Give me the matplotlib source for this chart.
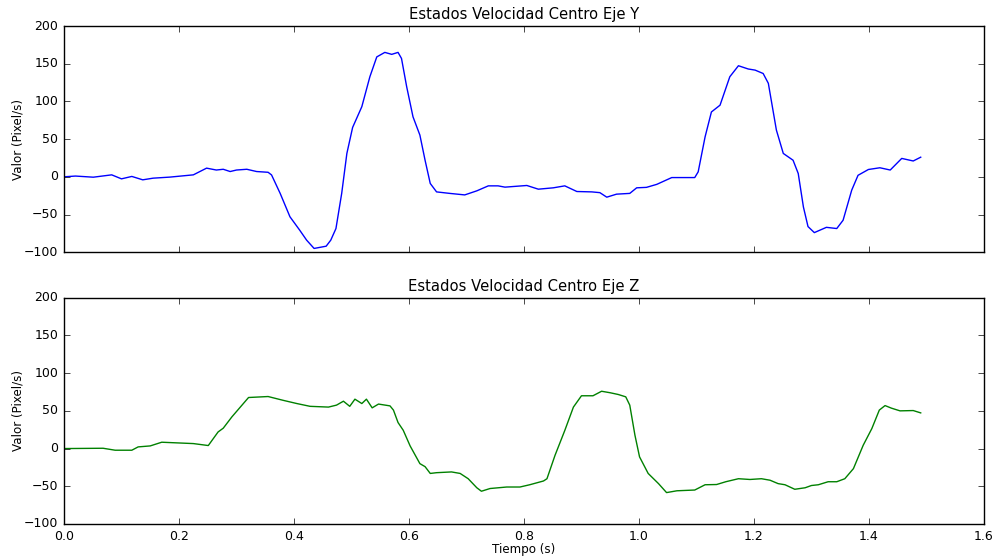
import matplotlib
matplotlib.use("Agg")
import matplotlib.pyplot as plt
import numpy as np

plt.style.use("classic")

# Velocidad del centro, eje Y (tiempo en s, valor en pixel/s)
t_y = [0.000, 0.020, 0.051, 0.083, 0.100, 0.118, 0.137, 0.155, 0.184, 0.225,
       0.248, 0.265, 0.277, 0.289, 0.300, 0.318, 0.335, 0.355, 0.361, 0.376,
       0.393, 0.410, 0.422, 0.435, 0.456, 0.464, 0.473, 0.483, 0.492, 0.502,
       0.518, 0.532, 0.544, 0.558, 0.570, 0.581, 0.587, 0.596, 0.607, 0.619,
       0.628, 0.637, 0.648, 0.671, 0.697, 0.718, 0.738, 0.755, 0.767, 0.805,
       0.825, 0.851, 0.871, 0.892, 0.918, 0.932, 0.944, 0.961, 0.984, 0.996,
       1.013, 1.031, 1.057, 1.083, 1.097, 1.103, 1.115, 1.126, 1.141, 1.158,
       1.173, 1.190, 1.202, 1.216, 1.225, 1.239, 1.251, 1.268, 1.277, 1.286,
       1.294, 1.305, 1.326, 1.344, 1.355, 1.370, 1.381, 1.399, 1.419, 1.437,
       1.457, 1.477, 1.490]
v_y = [0.0, 1.0, -0.5, 2.6, -2.7, 0.5, -4.0, -1.8, -0.4, 2.6,
       11.5, 9.0, 10.0, 7.0, 9.0, 10.0, 7.0, 6.0, 2.5, -22.0,
       -53.0, -70.8, -84.0, -95.0, -92.0, -84.0, -68.6, -22.0, 31.0, 65.5,
       93.0, 132.7, 159.0, 165.0, 162.4, 165.0, 157.0, 119.5, 79.6, 55.3,
       22.0, -8.8, -20.0, -22.0, -24.0, -18.6, -12.0, -12.0, -13.7, -11.5,
       -16.4, -14.6, -12.0, -19.5, -20.0, -21.0, -27.0, -23.0, -22.0, -14.6,
       -14.0, -10.0, -1.0, -1.0, -1.0, 6.6, 53.0, 86.0, 95.0, 132.7,
       147.3, 143.0, 141.5, 137.0, 124.0, 62.0, 31.0, 22.0, 4.4, -40.0,
       -66.0, -74.0, -67.0, -68.6, -57.6, -17.7, 2.0, 9.7, 12.0, 9.0,
       24.4, 21.0, 26.0]

# Velocidad del centro, eje Z
t_z = [0.000, 0.068, 0.089, 0.118, 0.129, 0.150, 0.170, 0.225, 0.251, 0.268,
       0.277, 0.292, 0.321, 0.355, 0.381, 0.405, 0.428, 0.460, 0.474, 0.486,
       0.497, 0.506, 0.518, 0.526, 0.536, 0.547, 0.567, 0.573, 0.581, 0.590,
       0.602, 0.619, 0.628, 0.637, 0.648, 0.674, 0.689, 0.703, 0.718, 0.726,
       0.741, 0.770, 0.793, 0.810, 0.834, 0.840, 0.854, 0.871, 0.886, 0.900,
       0.920, 0.935, 0.950, 0.964, 0.977, 0.984, 0.993, 1.001, 1.016, 1.034,
       1.048, 1.066, 1.097, 1.115, 1.135, 1.151, 1.173, 1.193, 1.213, 1.228,
       1.242, 1.254, 1.271, 1.289, 1.300, 1.312, 1.329, 1.344, 1.358, 1.373,
       1.390, 1.405, 1.418, 1.428, 1.439, 1.454, 1.477, 1.490]
v_z = [0.0, 0.4, -2.2, -2.2, 2.2, 3.5, 8.4, 6.6, 4.0, 22.0,
       27.0, 42.0, 67.7, 69.0, 64.0, 59.7, 56.0, 55.0, 57.6, 62.8,
       56.0, 65.5, 59.7, 65.5, 54.0, 59.0, 56.6, 51.0, 34.5, 24.3,
       3.5, -20.0, -24.0, -33.0, -32.0, -31.0, -33.0, -40.0, -52.0, -56.6,
       -53.0, -51.0, -51.0, -48.0, -43.0, -40.0, -9.0, 24.0, 55.0, 70.0,
       70.0, 76.0, 74.0, 71.7, 68.6, 57.6, 17.7, -11.0, -33.0, -46.5,
       -58.4, -56.0, -55.0, -48.0, -47.7, -44.0, -40.0, -41.0, -40.0, -42.0,
       -46.5, -48.0, -54.0, -52.0, -49.0, -48.0, -44.0, -44.0, -40.0, -26.6,
       4.4, 26.5, 51.0, 57.0, 53.6, 50.0, 50.4, 47.3]

fig = plt.figure(figsize=(9.95, 5.58), dpi=100, facecolor="white")
ax1 = fig.add_axes([0.0643, 0.548, 0.9246, 0.4054])
ax2 = fig.add_axes([0.0643, 0.061, 0.9246, 0.4054], sharex=ax1)

ax1.plot(t_y, v_y, color="b", linewidth=1)
ax2.plot(t_z, v_z, color="g", linewidth=1)

for ax, titulo in [(ax1, "Estados Velocidad Centro Eje Y"),
                   (ax2, "Estados Velocidad Centro Eje Z")]:
    ax.set_title(titulo, fontsize=10.6, pad=5)
    ax.set_ylabel("Valor (Pixel/s)", fontsize=8.6)
    ax.yaxis.set_label_coords(-0.043, 0.5)
    ax.set_ylim(-100, 200)
    ax.set_yticks(np.arange(-100, 201, 50))
    ax.tick_params(labelsize=9)

ax1.set_xlim(0, 1.6)
plt.setp(ax1.get_xticklabels(), visible=False)
ax2.set_xlabel("Tiempo (s)", fontsize=8.6)
ax2.xaxis.set_label_coords(0.5, -0.084)

fig.savefig("out.png", dpi=100, facecolor="white")
